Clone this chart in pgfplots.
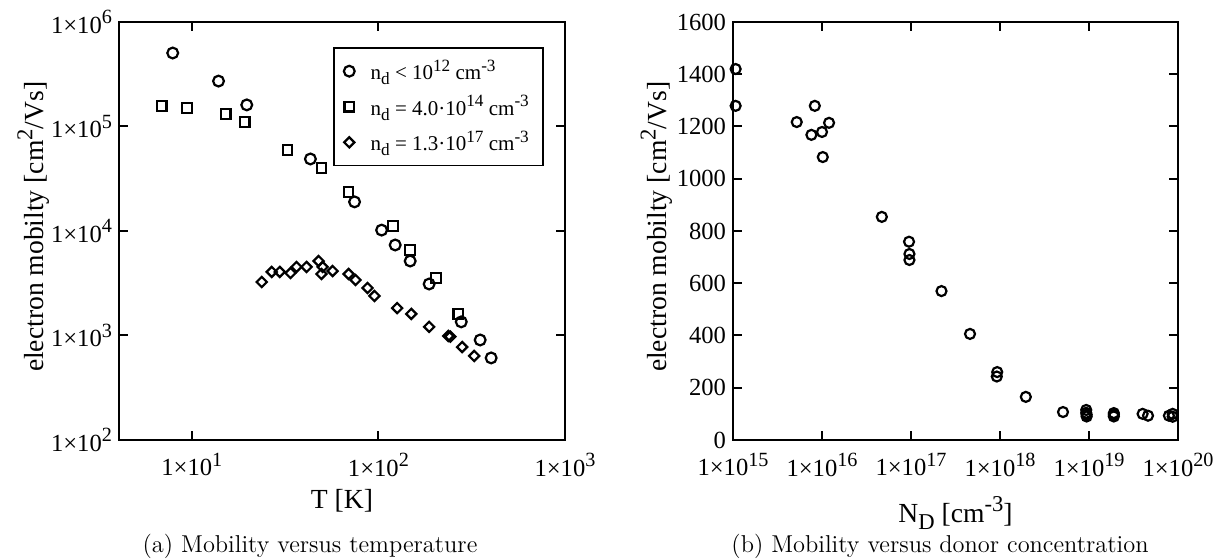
\documentclass[border=0pt]{standalone}
\usepackage{fontspec}
\newfontfamily\tnr{Liberation Serif}
\usepackage{pgfplots}
\pgfplotsset{compat=1.18}
\newcommand\sps[1]{\raisebox{0.85ex}{\scalebox{0.82}{#1}}}
\newcommand\sbs[1]{\raisebox{-0.55ex}{\scalebox{0.82}{#1}}}
\pgfplotstableread{
T mu
7.9 505000
13.9 272000
19.7 161000
43.2 48900
74.5 19000
104 10200
123 7350
148 5160
187 3110
278 1350
351 906
402 610
}\circdata
\pgfplotstableread{
T mu
6.9 157000
9.4 150000
15.2 132000
19.2 110000
32.6 59600
49.5 40000
69.2 23600
120 11200
148 6580
204 3550
268 1610
}\sqdata
\pgfplotstableread{
T mu
23.7 3250
26.8 4060
29.6 4060
33.8 3960
36.4 4530
41.2 4530
47.8 5160
50.2 4530
49.5 3880
56.8 4140
69.2 3880
75.4 3400
87.4 2850
95.2 2390
126 1830
150 1610
187 1210
237 990
243 975
281 776
326 637
}\diadata
\pgfplotstableread{
N mu
1.07e15 1420
1.07e15 1279
5.2e15 1217
8.3e15 1279
7.6e15 1168
1.0e16 1179
1.2e16 1214
1.02e16 1083
4.7e16 854
9.5e16 759
9.6e16 712
9.6e16 689
2.2e17 570
4.6e17 406
9.3e17 260
9.2e17 243
1.95e18 165
5.1e18 107
9.3e18 115
9.3e18 104
9.4e18 97
9.4e18 90
1.9e19 103
1.9e19 96
1.9e19 90
4.0e19 100
4.6e19 93
7.9e19 93
8.7e19 89
8.7e19 100
}\nddata
\pgfplotsset{
  common/.style={
    scale only axis, anchor=south west, clip=false,
    tick align=inside, major tick length=4.5pt,
    every tick/.style={line width=1pt, black},
    axis line style={line width=1pt},
    xtick pos=both, ytick pos=both,
    xminorticks=false, yminorticks=false,
    tick label style={font=\tnr\fontsize{12.3}{14}\selectfont},
    xticklabel style={yshift=-3pt},
    label style={font=\tnr\fontsize{13.8}{16}\selectfont},
  }
}
\begin{document}
\begin{tikzpicture}
\useasboundingbox (0,0) rectangle (613.5pt,280pt);
\begin{axis}[common,
  at={(59.5pt,60pt)}, width=223pt, height=209pt,
  xmode=log, ymode=log, xmin=4.07, xmax=1000, ymin=100, ymax=1e6,
  xtick={10,100,1000},
  xticklabels={1×10\sps{1},1×10\sps{2},1×10\sps{3}},
  ytick={100,1000,10000,100000,1000000},
  yticklabels={1×10\sps{2},1×10\sps{3},1×10\sps{4},1×10\sps{5},1×10\sps{6}},
  xlabel={T [K]},
  ylabel={electron mobilty [cm\sps{2}/Vs]},
  xlabel style={at={(axis description cs:0.5,-0.145)}, anchor=center},
  ylabel style={at={(axis description cs:-0.192,0.51)}, anchor=center},
  legend style={at={(axis description cs:0.48,0.94)}, anchor=north west,
    font=\tnr\fontsize{10.5}{12}\selectfont, draw=black, line width=0.8pt,
    row sep=2.5pt, column sep=6pt, inner xsep=5pt, inner ysep=4pt},
  legend cell align=left,
]
\addplot[only marks, mark=o, mark size=2.7pt, line width=1.1pt] table[x=T,y=mu]{\circdata};
\addlegendentry{n\sbs{d} < 10\sps{12} cm\sps{-3}}
\addplot[only marks, mark=square, mark size=2.4pt, line width=1.1pt] table[x=T,y=mu]{\sqdata};
\addlegendentry{n\sbs{d} = 4.0·10\sps{14} cm\sps{-3}}
\addplot[only marks, mark=square, mark size=1.8pt, line width=1.1pt, mark options={rotate=45}] table[x=T,y=mu]{\diadata};
\addlegendentry{n\sbs{d} = 1.3·10\sps{17} cm\sps{-3}}
\end{axis}
\begin{axis}[common,
  at={(366.5pt,60pt)}, width=222.5pt, height=209pt,
  xmode=log, xmin=1e15, xmax=1e20, ymin=0, ymax=1600,
  xtick={1e15,1e16,1e17,1e18,1e19,1e20},
  xticklabels={1×10\sps{15},1×10\sps{16},1×10\sps{17},1×10\sps{18},1×10\sps{19},1×10\sps{20}},
  ytick={0,200,...,1600},
  yticklabels={0,200,400,600,800,1000,1200,1400,1600},
  xlabel={N\sbs{D} [cm\sps{-3}]},
  ylabel={electron mobilty [cm\sps{2}/Vs]},
  xlabel style={at={(axis description cs:0.5,-0.174)}, anchor=center},
  ylabel style={at={(axis description cs:-0.172,0.51)}, anchor=center},
]
\addplot[only marks, mark=o, mark size=2.5pt, line width=1.1pt] table[x=N,y=mu]{\nddata};
\end{axis}
\node[font=\fontsize{12.2}{14}\selectfont] at (155pt,7pt) {(a) Mobility versus temperature};
\node[font=\fontsize{12.2}{14}\selectfont] at (470pt,7pt) {(b) Mobility versus donor concentration};
\end{tikzpicture}
\end{document}
